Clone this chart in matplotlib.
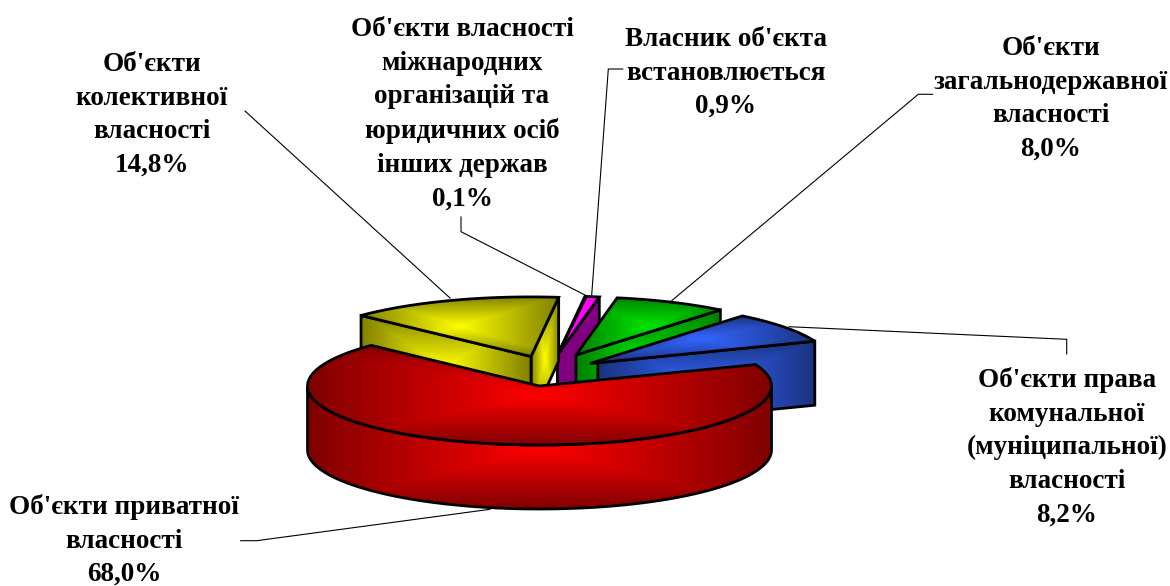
import numpy as np
import matplotlib
matplotlib.use("Agg")
import matplotlib.pyplot as plt
from matplotlib.patches import Polygon

# data, going counter-clockwise from the right edge of the red slice
shares = [8.2, 8.0, 0.9, 0.1, 14.8, 68.0]
percent_labels = ["8,2%", "8,0%", "0,9%", "0,1%", "14,8%", "68,0%"]
names = [
    "Об'єкти права\nкомунальної\n(муніципальної)\nвласності",
    "Об'єкти\nзагальнодержавної\nвласності",
    "Власник об'єкта\nвстановлюється",
    "Об'єкти власності\nміжнародних\nорганізацій та\nюридичних осіб\nінших держав",
    "Об'єкти\nколективної\nвласності",
    "Об'єкти приватної\nвласності",
]
bright = ["#3366ff", "#00e600", "#ff00ff", "#ff00ff", "#ffff00", "#ff0000"]
dark = ["#1a3380", "#008000", "#ff00ff", "#ff00ff", "#808000", "#800000"]

# layout, in picture pixels
CX, CY = 539.5, 386
RX, RY = 232, 59
DEPTH = 64
START = 21.3
offsets = [(50.5, -22.5), (36.5, -31), (18, -31), (18, -31), (-8.5, -29.5), (0, 0)]
scales = [1.04, 0.985, 1.0, 1.0, 1.01, 1.0]
label_xy = [(1067, 367), (1051, 36), (726, 27), (462, 17), (152, 52), (124, 494)]
leaders = [
    [(1066.7, 354), (1066.7, 339.3), (789, 326.7)],
    [(932.7, 94.3), (918.3, 94.3), (670.5, 301.7)],
    [(622.7, 69), (608.3, 69), (591.7, 295)],
    [(461, 217), (461, 231.7), (585, 295)],
    [(245, 111), (450, 298)],
    [(240.7, 540.7), (256.7, 540.7), (490, 509.3)],
]
draw_order = [3, 2, 1, 0, 4, 5]

plt.rcParams["font.family"] = ["Liberation Serif", "DejaVu Serif"]

fig = plt.figure(figsize=(11.7, 5.86), dpi=100)
ax = fig.add_axes([0, 0, 1, 1])


def to_rgb(c):
    return np.array(matplotlib.colors.to_rgb(c))


def shade(points, col_in, col_out, z):
    # gradient from the centre of the bounding box, clipped to the shape
    pts = np.array(points)
    x0, y0 = pts.min(axis=0)
    x1, y1 = pts.max(axis=0)
    u, v = np.meshgrid(np.linspace(-1, 1, 200), np.linspace(-1, 1, 200))
    t = np.maximum(np.abs(u), np.abs(v))[..., None]
    img = to_rgb(col_in) * (1 - t) + to_rgb(col_out) * t
    im = ax.imshow(img, extent=(x0, x1, y1, y0), aspect="auto", zorder=z,
                   interpolation="bilinear")
    poly = Polygon(pts, closed=True, facecolor="none", edgecolor="black",
                   linewidth=2.0, joinstyle="miter", zorder=z + 0.5)
    ax.add_patch(poly)
    im.set_clip_path(poly)


def rim(a0, a1, ox, oy, k=1.0, drop=0):
    a = np.radians(np.linspace(a0, a1, 80))
    return np.column_stack([CX + ox + k * RX * np.cos(a),
                            CY + oy + drop - k * RY * np.sin(a)])


edges = START + np.concatenate([[0], np.cumsum(shares)]) * 3.6
z = 2
for i in draw_order:
    a0, a1 = edges[i], edges[i + 1]
    ox, oy = offsets[i]
    k = scales[i]
    apex = np.array([CX + ox, CY + oy])
    down = np.array([0, DEPTH])
    arc = rim(a0, a1, ox, oy, k)
    wall_in, wall_out = bright[i], dark[i]
    if i == 2:
        wall_in = wall_out = "#800080"

    # cut walls that face the viewer
    if np.sin(np.radians(a0 - 90)) < 0:
        start_pt = apex
        if i == 0:
            # the green wall stays in front of the blue tip
            start_pt = apex + 0.035 * (arc[0] - apex)
        shade([start_pt, arc[0], arc[0] + down, start_pt + down], wall_in, wall_out, z)
        z += 1
    if np.sin(np.radians(a1 + 90)) < 0:
        shade([apex, arc[-1], arc[-1] + down, apex + down], wall_in, wall_out, z)
        z += 1

    # outer wall, only the front half of the pie
    lo, hi = max(a0, 180), min(a1, 360)
    if hi > lo:
        shade(np.vstack([rim(lo, hi, ox, oy, k), rim(hi, lo, ox, oy, k, DEPTH)]),
              bright[i], dark[i], z)
        z += 1

    shade(np.vstack([apex, arc]), bright[i], dark[i], z)
    z += 1

for line in leaders:
    xs, ys = zip(*line)
    ax.plot(xs, ys, color="black", linewidth=0.8, zorder=1)

for name, pct, (x, y) in zip(names, percent_labels, label_xy):
    ax.text(x, y, name + "\n" + pct, ha="center", va="top", ma="center",
            fontsize=19.5, fontweight="bold", color="black", linespacing=1.45, zorder=50)

ax.set_xlim(0, 1170)
ax.set_ylim(586, 0)
ax.axis("off")
fig.savefig("out.png", dpi=100, facecolor="white")
